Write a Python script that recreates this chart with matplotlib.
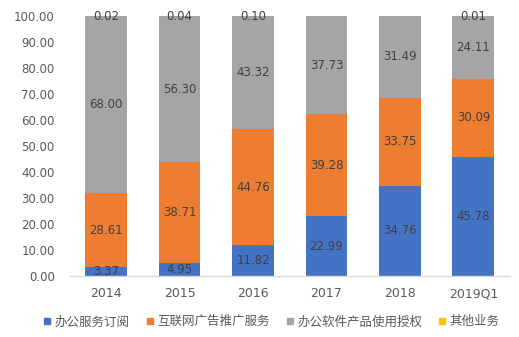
import matplotlib
matplotlib.use("Agg")
import matplotlib.pyplot as plt
from matplotlib.lines import Line2D
import numpy as np

plt.rcParams['font.family'] = ['Noto Sans CJK SC', 'DejaVu Sans']

categories = ["2014", "2015", "2016", "2017", "2018", "2019Q1"]
series_names = ["办公服务订阅", "互联网广告推广服务", "办公软件产品使用授权", "其他业务"]
office_sub = [3.37, 4.95, 11.82, 22.99, 34.76, 45.78]
internet_ads = [28.61, 38.71, 44.76, 39.28, 33.75, 30.09]
software_lic = [68.00, 56.30, 43.32, 37.73, 31.49, 24.11]
other = [0.02, 0.04, 0.10, 0.0, 0.0, 0.01]
other_labels = ["0.02", "0.04", "0.10", "", "", "0.01"]
yticks = [0, 10, 20, 30, 40, 50, 60, 70, 80, 90, 100]

colors = ["#4472C4", "#ED7D31", "#A5A5A5", "#FFC000"]

fig = plt.figure(figsize=(5.19, 3.37), dpi=100)
ax = fig.add_axes([0.135, 0.181, 0.848, 0.7715])

x = np.arange(len(categories))
w = 0.57
series = [office_sub, internet_ads, software_lic, other]
bottom = np.zeros(len(categories))
label_color = "#404040"
for i, (vals, c) in enumerate(zip(series, colors)):
    vals = np.array(vals)
    ax.bar(x, vals, w, bottom=bottom, color=c, zorder=2)
    for j, v in enumerate(vals):
        if i < 3:
            ax.text(x[j], bottom[j] + v / 2, f"{v:.2f}", ha="center", va="center",
                    fontsize=8.5, color=label_color, family="DejaVu Sans")
        else:
            if other_labels[j]:
                ax.text(x[j], bottom[j] + v / 2, other_labels[j], ha="center", va="center",
                        fontsize=8.5, color=label_color, family="DejaVu Sans")
    bottom = bottom + vals

ax.set_ylim(0, 100)
ax.set_xlim(-0.49, 5.5)
ax.set_yticks(yticks)
ax.set_yticklabels([f"{t:.2f}" for t in yticks], family="DejaVu Sans")
ax.set_xticks(x)
ax.set_xticklabels(categories, family="DejaVu Sans")
ax.tick_params(axis="both", length=0, labelsize=9, colors="#595959")
ax.tick_params(axis="y", labelsize=8.5)
ax.tick_params(axis="x", pad=8)
ax.tick_params(axis="y", pad=11)
for s in ["top", "right", "left"]:
    ax.spines[s].set_visible(False)
ax.spines["bottom"].set_color("#D9D9D9")
ax.spines["bottom"].set_linewidth(1)

handles = [Line2D([0], [0], marker="s", linestyle="", markersize=5,
                  markerfacecolor=c, markeredgecolor=c) for c in colors]
fig.legend(handles, series_names, loc="center", bbox_to_anchor=(0.523, 0.045),
           ncol=4, frameon=False, fontsize=9, handlelength=0.6,
           handletextpad=0.3, columnspacing=1.3, labelcolor="#595959")

fig.savefig("out.png", dpi=100)
